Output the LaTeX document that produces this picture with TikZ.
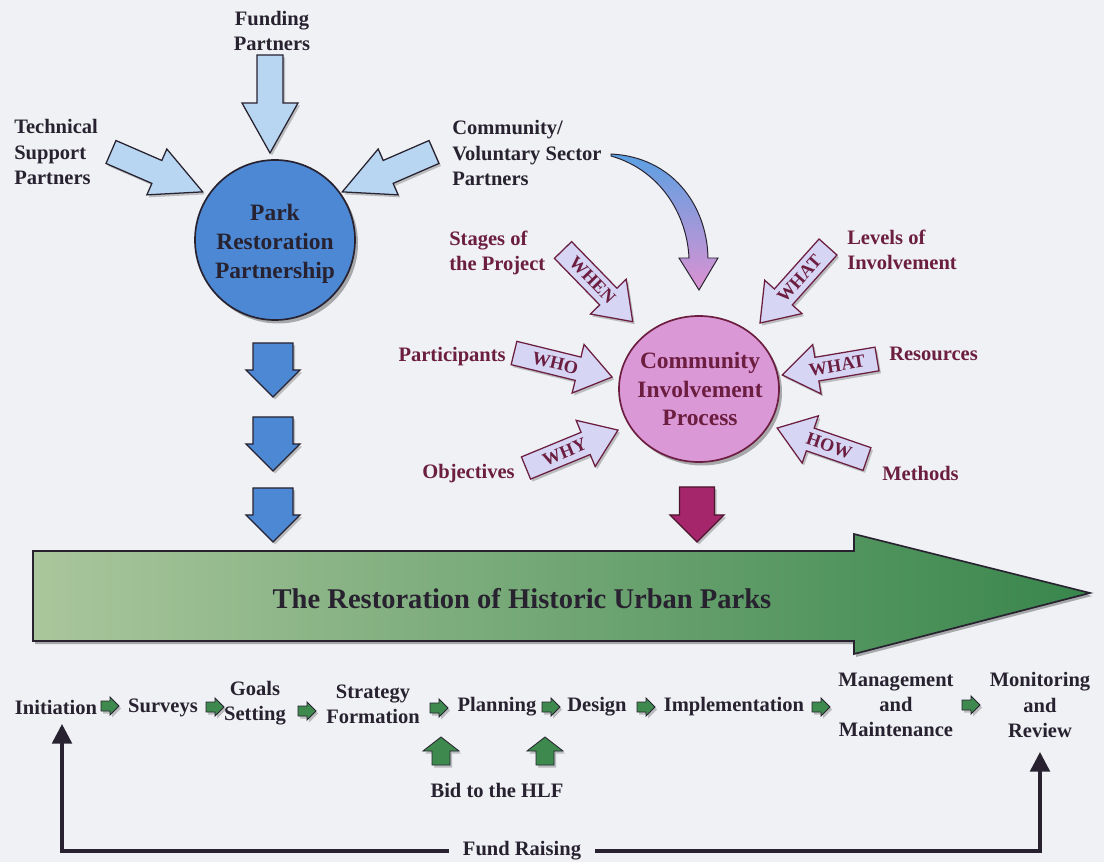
\documentclass[tikz,border=0pt]{standalone}
\usepackage{fontspec}
\setmainfont{Liberation Serif}
\usetikzlibrary{arrows.meta,shapes.geometric,calc}

\definecolor{pagebg}{RGB}{239,241,244}
\definecolor{inkdark}{RGB}{40,34,48}
\definecolor{cipmaroon}{RGB}{108,30,64}
\definecolor{paleblue}{RGB}{184,214,242}
\definecolor{midblue}{RGB}{76,136,212}
\definecolor{pinkfill}{RGB}{218,152,214}
\definecolor{lavfill}{RGB}{214,214,244}
\definecolor{plumarrow}{RGB}{166,38,108}
\definecolor{greenlight}{RGB}{170,198,156}
\definecolor{greendark}{RGB}{56,134,76}
\definecolor{stepgreen}{RGB}{62,138,78}
\definecolor{curvetop}{RGB}{90,160,226}
\definecolor{curvebot}{RGB}{220,146,210}

% one pixel of the drawing grid
\newcommand\upx{0.7113pt}

% block arrow: style, tail x, tail y, angle, length, shaft half width,
% head half width, head length
\newcommand\blockarrow[8]{%
  \begin{scope}[shift={(#2+2,#3+2.5)}, rotate=#4]
    \fill[black, opacity=0.22] (0,-#6) -- ({#5-#8},-#6) -- ({#5-#8},-#7) -- (#5,0)
      -- ({#5-#8},#7) -- ({#5-#8},#6) -- (0,#6) -- cycle;
  \end{scope}
  \begin{scope}[shift={(#2,#3)}, rotate=#4]
    \path[#1] (0,-#6) -- ({#5-#8},-#6) -- ({#5-#8},-#7) -- (#5,0)
      -- ({#5-#8},#7) -- ({#5-#8},#6) -- (0,#6) -- cycle;
  \end{scope}}

\begin{document}
\begin{tikzpicture}[x=0.7113pt, y=-0.7113pt,
  lbl/.style={font=\fontsize{14.6}{17.8}\selectfont\bfseries, text=inkdark,
    inner sep=0pt, align=left},
  ctrlbl/.style={lbl, align=center},
  mlbl/.style={lbl, text=cipmaroon},
  cirtext/.style={font=\fontsize{16.7}{20.4}\selectfont\bfseries, align=center,
    inner sep=0pt},
  arrlbl/.style={font=\fontsize{13}{15}\selectfont\bfseries, text=cipmaroon,
    inner sep=0pt},
  partarrow/.style={fill=paleblue, draw=inkdark, line width=0.9pt, line join=miter},
  downarrow/.style={fill=midblue, draw=inkdark, line width=0.9pt},
  plumdown/.style={fill=plumarrow, draw=cipmaroon!70!black, line width=0.9pt},
  qarrow/.style={fill=lavfill, draw=cipmaroon, line width=0.9pt},
  steparrow/.style={fill=stepgreen, draw=inkdark, line width=0.6pt},
  fundline/.style={draw=inkdark, line width=2.5pt,
    -{Triangle[width=14pt,length=14pt]}}]

\fill[pagebg] (0,0) rectangle (1104,862);
\useasboundingbox (0,0) rectangle (1104,862);

% ---------- Park Restoration Partnership ----------
\fill[black, opacity=0.3] (278,243.5) circle[radius=80];
\node[circle, draw=inkdark, line width=1.2pt, fill=midblue,
  minimum size={160*\upx}, inner sep=0pt] (prp) at (275,240) {};
\node[cirtext, text=inkdark] (prptext) at (275,244) {Park\\Restoration\\Partnership};

\blockarrow{partarrow}{270}{55}{-90}{98}{13}{28}{50}
\blockarrow{partarrow}{111}{152}{-23.5}{100}{12.5}{25}{50}
\blockarrow{partarrow}{434}{152}{-156.5}{100}{12.5}{25}{50}

\node[ctrlbl] (funding) at (272,31) {Funding\\Partners};
\node[lbl, anchor=west] (technical) at (14,152) {Technical\\Support\\Partners};
\node[lbl, anchor=west] (voluntary) at (452,153) {Community/\\Voluntary Sector\\Partners};

% arrows down to the main arrow
\blockarrow{downarrow}{273}{343}{-90}{54}{20}{27}{27}
\blockarrow{downarrow}{273}{417}{-90}{54}{20}{27}{27}
\blockarrow{downarrow}{273}{488}{-90}{54}{20}{27}{27}

% curved arrow from the voluntary sector partners
\shadedraw[top color=curvetop, bottom color=curvebot, draw=inkdark, line width=0.7pt]
  (611,154) .. controls (672,157) and (707,205) .. (708,258)
  -- (718,258) -- (699,290) -- (679,258) -- (689,258)
  .. controls (687,214) and (660,170) .. (611,156) -- cycle;

% ---------- Community Involvement Process ----------
\fill[black, opacity=0.3] (702,392.5) ellipse[x radius=80, y radius=73];
\node[ellipse, draw=cipmaroon, line width=1.2pt, fill=pinkfill,
  minimum width={160*\upx}, minimum height={146*\upx}, inner sep=0pt] (cip) at (699,389) {};
\node[cirtext, text=cipmaroon] (ciptext) at (700,389) {Community\\Involvement\\Process};

\blockarrow{qarrow}{563}{250}{-45.8}{100}{12}{25}{35}
\blockarrow{qarrow}{828}{247}{-131.8}{102}{12}{25}{35}
\blockarrow{qarrow}{514}{353}{-13.8}{101}{12}{25}{35}
\blockarrow{qarrow}{877}{359}{-170.4}{96}{12}{25}{35}
\blockarrow{qarrow}{526}{468}{22.4}{99.5}{12}{25}{35}
\blockarrow{qarrow}{867}{459}{161}{95}{12}{25}{35}

\node[arrlbl, rotate=-45.8] (qwhen) at (592.4,280.2) {WHEN};
\node[arrlbl, rotate=48.2] (qwhatlevel) at (799.4,278.9) {WHAT};
\node[arrlbl, rotate=-13.8] (qwho) at (555.2,363.1) {WHO};
\node[arrlbl, rotate=9.6] (qwhatres) at (837.1,365.7) {WHAT};
\node[arrlbl, rotate=22.4] (qwhy) at (564.6,452) {WHY};
\node[arrlbl, rotate=-19] (qhow) at (829.2,446) {HOW};

\node[mlbl, anchor=west] (stages) at (449,253) {Stages of\\the Project};
\node[mlbl, anchor=west] (levels) at (847,250) {Levels of\\Involvement};
\node[mlbl, anchor=east] (participants) at (506,357) {Participants};
\node[mlbl, anchor=east] (objectives) at (515,474) {Objectives};
\node[mlbl, anchor=west] (resources) at (889,354) {Resources};
\node[mlbl, anchor=west] (methods) at (882,473) {Methods};

\blockarrow{plumdown}{697}{487}{-90}{55}{17.5}{27}{27}

% ---------- main arrow ----------
\fill[black, opacity=0.3] (35,554) -- (856,554) -- (856,537) -- (1092,596)
  -- (856,657) -- (856,644) -- (35,644) -- cycle;
\shadedraw[left color=greenlight, right color=greendark, draw=inkdark, line width=1.2pt]
  (33,551) -- (854,551) -- (854,534) -- (1090,593) -- (854,654) -- (854,641)
  -- (33,641) -- cycle;
\node[font=\fontsize{20.3}{24}\selectfont\bfseries, text=inkdark, inner sep=0pt]
  (title) at (522,599) {The Restoration of Historic Urban Parks};

% ---------- project stages ----------
\node[lbl] (init) at (56,707) {Initiation};
\node[lbl] (surveys) at (163,708) {Surveys};
\node[ctrlbl] (goals) at (255,703.5) {Goals\\Setting};
\node[ctrlbl] (strategy) at (373,704) {Strategy\\Formation};
\node[lbl] (planning) at (497,707) {Planning};
\node[lbl] (design) at (597,707) {Design};
\node[lbl] (impl) at (734,707) {Implementation};
\node[ctrlbl] (mgmt) at (896,705) {Management\\and\\Maintenance};
\node[ctrlbl] (monitor) at (1040,705) {Monitoring\\and\\Review};

\blockarrow{steparrow}{101}{706}{0}{18}{5}{9}{9}
\blockarrow{steparrow}{206}{707}{0}{18}{5}{9}{9}
\blockarrow{steparrow}{298}{711}{0}{18}{5}{9}{9}
\blockarrow{steparrow}{430}{708}{0}{18}{5}{9}{9}
\blockarrow{steparrow}{542}{707}{0}{18}{5}{9}{9}
\blockarrow{steparrow}{637}{707}{0}{18}{5}{9}{9}
\blockarrow{steparrow}{812}{707}{0}{18}{5}{9}{9}
\blockarrow{steparrow}{962}{705}{0}{18}{5}{9}{9}

\blockarrow{steparrow}{441}{765}{90}{28}{9}{18}{14}
\blockarrow{steparrow}{545}{765}{90}{28}{9}{18}{14}
\node[lbl] (bid) at (497,790) {Bid to the HLF};

% ---------- fund raising ----------
\node[lbl, inner xsep=10pt] (fund) at (522,851) {Fund Raising};
\coordinate (initup) at (62,724);
\coordinate (monup) at (1040,752);
\draw[fundline] (fund.west) -| (initup);
\draw[fundline] (fund.east) -| (monup);

\end{tikzpicture}
\end{document}
